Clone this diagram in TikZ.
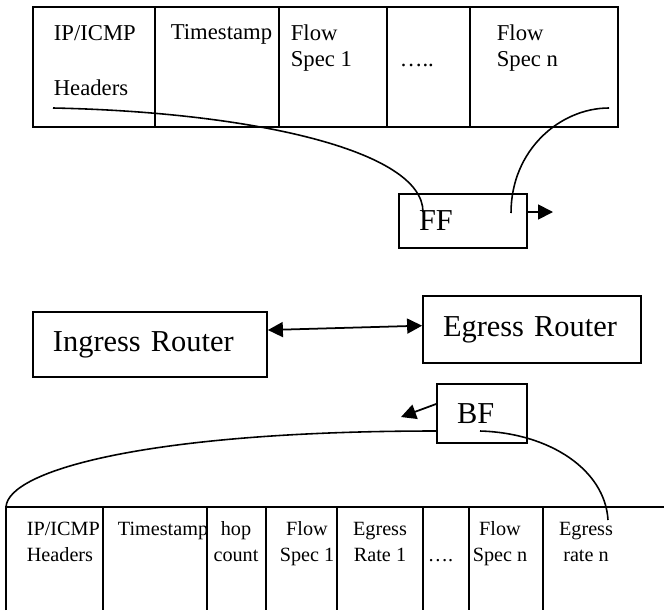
\documentclass[tikz,border=0pt]{standalone}
\usepackage{fontspec}
\setmainfont{Liberation Serif}
\usetikzlibrary{arrows.meta}
\begin{document}
\begin{tikzpicture}[x=0.2mm,y=-0.2mm,line width=1pt,>={Triangle[length=3mm,width=3mm]},
  unitbox/.style={draw,align=left,inner xsep=4mm,font=\fontsize{17.3}{20}\selectfont},
  toptxt/.style={anchor=base west,inner sep=0,align=left,font=\fontsize{12.9}{15.3}\selectfont},
  bottxt/.style={anchor=base,inner sep=0,align=center,font=\fontsize{11.5}{14.7}\selectfont},
  wire/.style={line width=0.9pt}]
\useasboundingbox (0,0) rectangle (664,610);
\draw (33,7) rectangle (618,127);
\foreach \x in {155,279,387,470} \draw (\x,7) -- (\x,127);
\node[toptxt] (hdr) at (53,95) {IP/ICMP\\[15.9pt]Headers};
\node[toptxt] (ts) at (170,40) {Timestamp};
\node[toptxt] (fs1) at (290,67) {Flow\\Spec 1};
\node[toptxt] (dots1) at (399,67) {…..};
\node[toptxt] (fsn) at (496,67) {Flow\\Spec n};
\node[unitbox,text width=17.6mm,minimum height=10.8mm] (ff) at (463,221) {FF};
\node[unitbox,text width=38.8mm,minimum height=13mm] (ing) at (150,344.5) {Ingress Router};
\node[unitbox,text width=35.6mm,minimum height=13.4mm] (egr) at (532,329.5) {Egress Router};
\node[unitbox,text width=10mm,minimum height=11.8mm] (bf) at (482,413.5) {BF};
\draw (6,610) -- (6,507) -- (664,507);
\foreach \x in {103,207,266,337,423,469,543} \draw (\x,507) -- (\x,610);
\node[bottxt,align=left,anchor=base west] (hdr2) at (26,561) {IP/ICMP\\Headers};
\node[bottxt,anchor=base west] (ts2) at (117,535) {Timestamp};
\node[bottxt] (hop) at (236,561) {hop\\count};
\node[bottxt] (fs21) at (307,561) {Flow\\Spec 1};
\node[bottxt] (er1) at (380,561) {Egress\\Rate 1};
\node[bottxt,anchor=base west] (dots2) at (427,561) {….};
\node[bottxt] (fs2n) at (500,561) {Flow\\Spec n};
\node[bottxt] (ern) at (586,561) {Egress\\rate n};
\coordinate (hdrend) at (53,108);
\coordinate (ffa) at (423,212);
\coordinate (fsnend) at (609,108);
\coordinate (ffb) at (511,213);
\coordinate (ffout) at (553,212);
\coordinate (bfout) at (401,417);
\coordinate (bfb) at (480,431);
\coordinate (corner) at (6,507);
\coordinate (ernend) at (608,520);
\draw[wire] (hdrend) .. controls (250,112) and (423,150) .. (ffa);
\draw[wire] (fsnend) .. controls (560,108) and (511,150) .. (ffb);
\draw[->] ([yshift=1.8mm]ff.east) -- (ffout);
\draw[<->] (ing.7) -- (egr.178);
\draw[->] ([yshift=1.9mm]bf.west) -- (bfout);
\draw[wire] ([yshift=-3.5mm]bf.west) .. controls (150,431) and (8,470) .. (corner);
\draw[wire] (bfb) .. controls (550,433) and (605,470) .. (ernend);
\end{tikzpicture}
\end{document}
